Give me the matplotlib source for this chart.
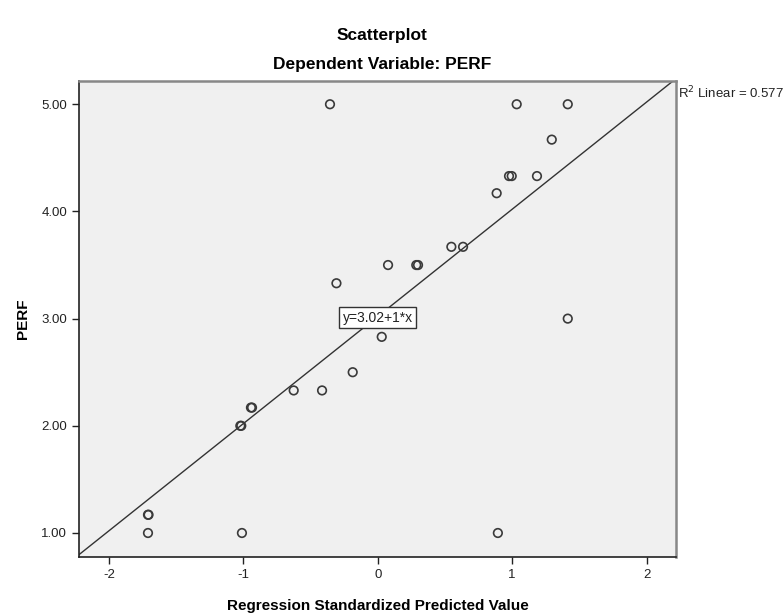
import matplotlib.pyplot as plt
import numpy as np

plt.rcParams['font.family'] = ['Liberation Sans', 'DejaVu Sans']
plt.rcParams['axes.unicode_minus'] = False

# standardized predicted value vs PERF
pred = [-0.355, 1.034, 1.414, 1.295, 0.977, 0.997, 1.185, 0.885,
        0.548, 0.635, 0.077, 0.287, 0.300, -0.307, 0.030, 1.414,
        -0.186, -0.625, -0.414, -0.943, -0.935, -1.022, -1.015,
        -1.709, -1.705, -1.709, -1.010, 0.894]
perf = [5.00, 5.00, 5.00, 4.67, 4.33, 4.33, 4.33, 4.17,
        3.67, 3.67, 3.50, 3.50, 3.50, 3.33, 2.83, 3.00,
        2.50, 2.33, 2.33, 2.17, 2.17, 2.00, 2.00,
        1.17, 1.17, 1.00, 1.00, 1.00]

intercept = 3.02
slope = 1.0
r2 = 0.577

xticks = [-2, -1, 0, 1, 2]
yticks = [1, 2, 3, 4, 5]

fig = plt.figure(figsize=(7.84, 6.15), dpi=100)
ax = fig.add_axes([0.1008, 0.0943, 0.7614, 0.774])
ax.set_facecolor('#f0f0f0')

xlim = (-2.222, 2.219)
ylim = (0.776, 5.217)
ax.set_xlim(xlim)
ax.set_ylim(ylim)

# fit line
xs = np.array(xlim)
ax.plot(xs, intercept + slope * xs, color='#333333', lw=1.0, zorder=2)

ax.scatter(pred, perf, s=38, facecolors='none', edgecolors='#3a3a3a',
           linewidths=1.2, zorder=3)

ax.text(0.0, 3.01, 'y=3.02+1*x', ha='center', va='center', fontsize=10,
        color='#222222', zorder=4,
        bbox=dict(boxstyle='square,pad=0.25', fc='white', ec='#333333', lw=1))

ax.text(1.003, 0.993, 'R$^2$ Linear = %.3f' % r2, transform=ax.transAxes,
        ha='left', va='top', fontsize=9.5, color='#222222')

ax.set_xticks(xticks)
ax.set_yticks(yticks)
ax.set_yticklabels(['%.2f' % v for v in yticks])
ax.tick_params(direction='out', length=5, width=1, labelsize=9.5,
               colors='#222222')

for side in ['left', 'bottom']:
    ax.spines[side].set_color('#222222')
    ax.spines[side].set_linewidth(1.2)
for side in ['top', 'right']:
    ax.spines[side].set_color('#888888')
    ax.spines[side].set_linewidth(1.8)

ax.set_xlabel('Regression Standardized Predicted Value', fontsize=11,
              fontweight='bold', labelpad=13)
ax.set_ylabel('PERF', fontsize=11, fontweight='bold', labelpad=8)

fig.text(0.487, 0.943, 'Scatterplot', ha='center', va='center',
         fontsize=12.5, fontweight='bold')
fig.text(0.487, 0.895, 'Dependent Variable: PERF', ha='center',
         va='center', fontsize=12.5, fontweight='bold')

fig.savefig('out.png', dpi=100)
